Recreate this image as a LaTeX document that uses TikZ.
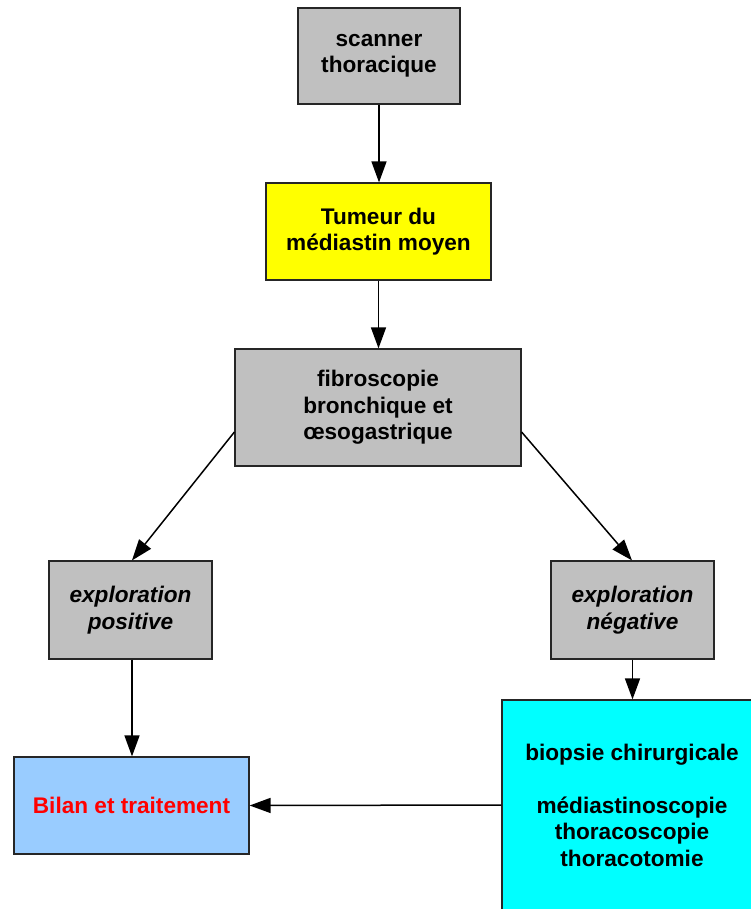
\documentclass[tikz,border=0pt]{standalone}
\usepackage{fontspec}
\setmainfont{Liberation Sans}
\usetikzlibrary{arrows.meta}
\definecolor{boxgray}{HTML}{C0C0C0}
\definecolor{boxyellow}{HTML}{FFFF00}
\definecolor{boxcyan}{HTML}{00FFFF}
\definecolor{boxblue}{HTML}{99CCFF}
\definecolor{textred}{HTML}{FF0000}
\begin{document}
\begin{tikzpicture}[x=1pt,y=-1pt,
  box/.style={draw=black!85, line width=1.2pt, rectangle, align=center,
    inner sep=0pt, font=\fontsize{22.6}{26.5}\selectfont\bfseries},
  itbox/.style={box, font=\fontsize{22.6}{26.5}\selectfont\bfseries\itshape},
  link/.style={line width=1.5pt, -{Triangle[length=21pt,width=15pt]}}]
\useasboundingbox (0,0) rectangle (751,909);
\clip (0,0) rectangle (751,909);

\node[box, fill=boxgray, minimum width=162pt, minimum height=96pt] (scan) at (379,56) {scanner\\thoracique};
\node[box, fill=boxyellow, minimum width=225pt, minimum height=97pt] (tum) at (378.5,231.5) {Tumeur du\\médiastin moyen};
\node[box, fill=boxgray, minimum width=286pt, minimum height=117pt] (fib) at (378,407.5) {fibroscopie\\bronchique et\\œsogastrique};
\node[itbox, fill=boxgray, minimum width=163pt, minimum height=98pt] (pos) at (130.5,610) {exploration\\positive};
\node[itbox, fill=boxgray, minimum width=163pt, minimum height=98pt] (neg) at (632.5,610) {exploration\\négative};
\node[box, fill=boxblue, text=textred, minimum width=235pt, minimum height=97pt] (bil) at (131.5,805.5) {Bilan et traitement};
\node[box, fill=boxcyan, minimum width=260pt, minimum height=210pt] (bio) at (632,805) {biopsie chirurgicale\\[26.5pt]médiastinoscopie\\thoracoscopie\\thoracotomie};

\draw[link] (scan.south) -- (scan.south |- tum.north);
\draw[link] (tum.south) -- (tum.south |- fib.north);
\draw[link] ([yshift=-24.5pt]fib.west) -- ([xshift=1.5pt]pos.north);
\draw[link] ([yshift=-24.5pt]fib.east) -- ([xshift=-0.5pt]neg.north);
\draw[link] ([xshift=1.5pt]pos.south) -- ([xshift=1.5pt]pos.south |- bil.north);
\draw[link] (neg.south) -- (neg.south |- bio.north);
\draw[link] (bio.west) -- (bil.east);
\end{tikzpicture}
\end{document}
